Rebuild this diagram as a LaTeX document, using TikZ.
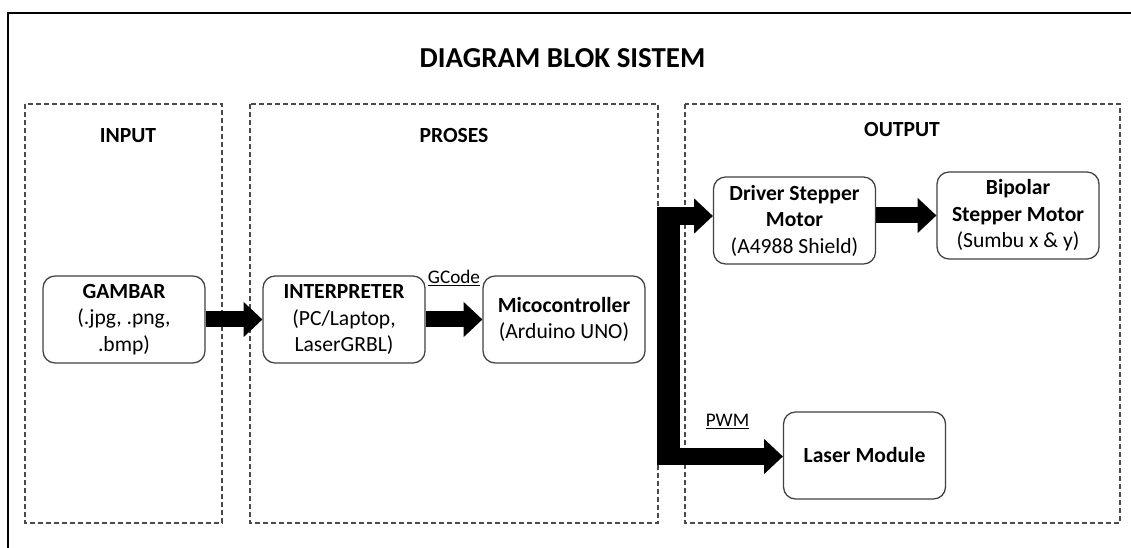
\documentclass[tikz,border=0pt]{standalone}
\usepackage{fontspec}
\setmainfont{Carlito}
\usetikzlibrary{arrows.meta,calc}
\definecolor{boxline}{HTML}{404040}
\definecolor{dashline}{HTML}{4A4A4A}
\begin{document}
\begin{tikzpicture}[x=0.75pt, y=-0.75pt,
  block/.style={draw=boxline, line width=0.95pt, rounded corners=9pt, fill=white,
    minimum width=121.5pt, minimum height=65.25pt, align=center, inner sep=0pt,
    font=\fontsize{16.2}{19.9}\selectfont},
  region/.style={draw=dashline, line width=0.95pt, dash pattern=on 3.75pt off 2.25pt},
  heading/.style={font=\fontsize{16.2}{19.9}\selectfont\bfseries, inner sep=0pt},
  flow/.style={line width=12pt, -{Triangle[length=14pt, width=26.25pt, line width=0pt]}},
  siglabel/.style={font=\fontsize{14.4}{17}\selectfont, inner sep=0pt}]

\useasboundingbox (0,0) rectangle (1131,548);

% outer frame
\draw[line width=1.5pt] (8,548) -- (8,13) -- (1131,13);

% title
\node[font=\fontsize{21.7}{26}\selectfont\bfseries, inner sep=0pt] (title) at (562.5,58.5) {DIAGRAM BLOK SISTEM};

% stage regions
\draw[region] (25,104) rectangle (222,523);
\draw[region] (250,104) rectangle (658,523);
\draw[region] (685,104) rectangle (1120,523);
\node[heading] (hin)  at (128,135.5) {INPUT};
\node[heading] (hpro) at (454,135.5) {PROSES};
\node[heading] (hout) at (902,130) {OUTPUT};

% blocks
\node[block] (gambar)  at (124,319.5)  {\textbf{GAMBAR}\\(.jpg, .png,\\.bmp)};
\node[block] (interp)  at (344,319.5)  {\textbf{INTERPRETER}\\(PC/Laptop,\\LaserGRBL)};
\node[block] (micro)   at (564,319.5)  {\textbf{Micocontroller}\\(Arduino UNO)};
\node[block] (driver)  at (794.5,220.5) {\textbf{Driver Stepper}\\\textbf{Motor}\\(A4988 Shield)};
\node[block] (bipolar) at (1018,215.5) {\textbf{Bipolar}\\\textbf{Stepper Motor}\\(Sumbu x \& y)};
\node[block] (laser)   at (864.5,455.5) {\textbf{Laser Module}};

% data flow
\draw[flow] (gambar) -- (interp);
\draw[flow] (interp) -- node[siglabel, above=19pt] (gcode) {\underline{GCode}} (micro);
\draw[flow] (driver.east |- bipolar.west) -- (bipolar.west);

% output bus
\coordinate (busT) at (657,216);
\coordinate (busB) at (657,456.5);
\fill ($(busT)+(0,-9)$) rectangle ($(busB)+(23,8.5)$);
\draw[flow, line width=13.5pt] (busT) -- (busT -| driver.west);
\draw[flow, line width=12.75pt] (busB) -- node[siglabel, above=14pt, pos=0.56] (pwm) {\underline{PWM}} (busB -| laser.west);
\end{tikzpicture}
\end{document}
